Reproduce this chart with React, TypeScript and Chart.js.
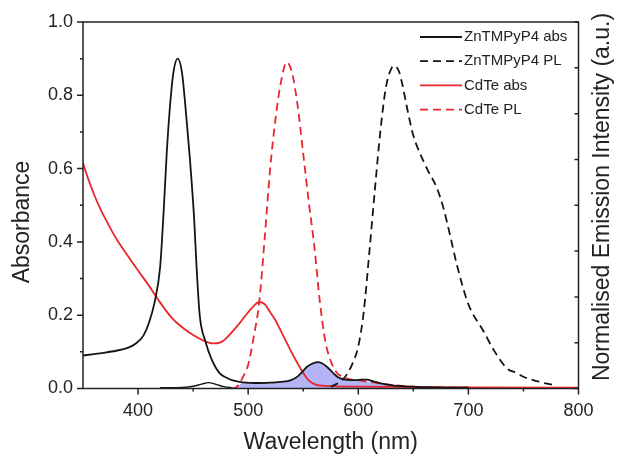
import React, { useEffect, useRef } from 'react';
import { Chart, registerables } from 'chart.js';

Chart.register(...registerables);

// ZnTMPyP4 absorption (solid black)
const znAbsNm = [350, 360, 370, 380, 390, 398, 405, 410, 415, 420, 423, 426, 429, 432, 436, 440, 443, 447, 449, 451, 453, 456, 461, 467, 474, 480, 486, 495, 510, 520, 530, 539, 545, 549, 553, 557, 563, 567, 570, 574, 578, 582, 587, 592, 597, 603, 608, 613, 618, 625, 633, 648, 670, 700];
const znAbsVal = [0.09, 0.094, 0.098, 0.103, 0.11, 0.123, 0.145, 0.18, 0.235, 0.33, 0.47, 0.64, 0.77, 0.86, 0.9, 0.86, 0.77, 0.63, 0.55, 0.46, 0.34, 0.2, 0.13, 0.078, 0.042, 0.03, 0.022, 0.017, 0.015, 0.016, 0.018, 0.023, 0.033, 0.045, 0.058, 0.066, 0.072, 0.069, 0.063, 0.052, 0.04, 0.03, 0.025, 0.023, 0.023, 0.024, 0.024, 0.02, 0.016, 0.011, 0.008, 0.005, 0.003, 0.002];

// ZnTMPyP4 emission (dashed black)
const znPlNm = [575, 580, 585, 590, 595, 600, 605, 610, 615, 620, 625, 630, 633, 637, 640, 644, 650, 656, 663, 671, 677, 683, 690, 700, 714, 723, 735, 744, 750, 762, 778];
const znPlVal = [0.005, 0.012, 0.022, 0.04, 0.07, 0.115, 0.21, 0.37, 0.54, 0.7, 0.82, 0.873, 0.88, 0.865, 0.83, 0.77, 0.69, 0.642, 0.596, 0.55, 0.496, 0.423, 0.332, 0.23, 0.155, 0.105, 0.055, 0.042, 0.032, 0.02, 0.009];

// CdTe absorption (solid red)
const cdAbsNm = [350, 355, 360, 365, 370, 380, 390, 400, 410, 420, 430, 440, 450, 460, 468, 475, 480, 490, 500, 505, 510, 515, 520, 525, 530, 535, 540, 545, 550, 555, 560, 570, 600, 650, 700, 800];
const cdAbsVal = [0.615, 0.57, 0.53, 0.495, 0.465, 0.41, 0.365, 0.322, 0.28, 0.235, 0.195, 0.167, 0.146, 0.13, 0.123, 0.126, 0.137, 0.17, 0.208, 0.225, 0.236, 0.23, 0.208, 0.185, 0.155, 0.125, 0.095, 0.068, 0.042, 0.022, 0.012, 0.007, 0.005, 0.004, 0.003, 0.002];

// CdTe emission (dashed red)
const cdPlNm = [485, 490, 495, 500, 505, 510, 515, 520, 525, 530, 535, 540, 545, 550, 555, 560, 565, 570, 575, 580, 585, 590, 600, 610, 620, 630, 640, 660, 700, 750, 800];
const cdPlVal = [0, 0.006, 0.03, 0.065, 0.14, 0.235, 0.41, 0.6, 0.74, 0.84, 0.89, 0.86, 0.77, 0.64, 0.51, 0.39, 0.24, 0.13, 0.075, 0.045, 0.033, 0.027, 0.022, 0.018, 0.013, 0.01, 0.007, 0.004, 0.002, 0.001, 0.001];

// small black trace near baseline
const lowNm = [420, 440, 450, 458, 464, 470, 478, 486];
const lowVal = [0.002, 0.003, 0.006, 0.012, 0.016, 0.012, 0.005, 0.002];

// spectral overlap (shaded)
const ovNm = [486, 490, 495, 500, 510, 520, 530, 539, 545, 549, 553, 557, 563, 567, 570, 574, 578, 582, 587, 592, 597, 603, 610, 620, 630, 640, 646];
const ovVal = [0, 0.005, 0.016, 0.016, 0.015, 0.016, 0.018, 0.023, 0.033, 0.045, 0.058, 0.066, 0.072, 0.069, 0.063, 0.052, 0.04, 0.03, 0.025, 0.023, 0.022, 0.021, 0.018, 0.013, 0.01, 0.005, 0];

const xTickLabels = [400, 500, 600, 700, 800];
const xMinorTicks = [450, 550, 650, 750];
const yTickLabels = [0, 0.2, 0.4, 0.6, 0.8, 1.0];
const yMinorTicks = [0.1, 0.3, 0.5, 0.7, 0.9];
const rightTicks = [0, 0.125, 0.25, 0.375, 0.5, 0.625, 0.75, 0.875, 1.0];

const legendNames = ['ZnTMPyP4 abs', 'ZnTMPyP4 PL', 'CdTe abs', 'CdTe PL'];
const BLACK = '#151515';
const RED = '#e8262b';
const FONT = "'Liberation Sans', Arial, sans-serif";
const legendStyles = [
  { color: BLACK, dash: [] as number[] },
  { color: BLACK, dash: [8, 5] },
  { color: RED, dash: [] as number[] },
  { color: RED, dash: [8, 5] },
];

const pts = (xs: number[], ys: number[]) => xs.map((x, i) => ({ x, y: ys[i] }));

const decorPlugin = {
  id: 'decor',
  afterDatasetsDraw(chart: any) {
    const { ctx, chartArea: a, scales } = chart;
    const xs = scales.x;
    const ys = scales.y;
    ctx.save();
    ctx.strokeStyle = '#222';
    ctx.lineWidth = 1.5;
    ctx.setLineDash([]);
    ctx.strokeRect(a.left, a.top, a.right - a.left, a.bottom - a.top);
    ctx.beginPath();
    yTickLabels.forEach((v) => { const p = ys.getPixelForValue(v); ctx.moveTo(a.left - 6, p); ctx.lineTo(a.left, p); });
    yMinorTicks.forEach((v) => { const p = ys.getPixelForValue(v); ctx.moveTo(a.left - 3, p); ctx.lineTo(a.left, p); });
    xTickLabels.forEach((v) => { const p = xs.getPixelForValue(v); ctx.moveTo(p, a.bottom); ctx.lineTo(p, a.bottom + 6); });
    xMinorTicks.forEach((v) => { const p = xs.getPixelForValue(v); ctx.moveTo(p, a.bottom); ctx.lineTo(p, a.bottom + 3); });
    rightTicks.forEach((v) => { const p = ys.getPixelForValue(v); ctx.moveTo(a.right - 4, p); ctx.lineTo(a.right, p); });
    ctx.stroke();

    // legend
    ctx.font = `15px ${FONT}`;
    ctx.textBaseline = 'middle';
    ctx.textAlign = 'left';
    legendNames.forEach((name, i) => {
      const yy = 37 + i * 24.2;
      const st = legendStyles[i];
      ctx.beginPath();
      ctx.strokeStyle = st.color;
      ctx.lineWidth = 1.8;
      ctx.setLineDash(st.dash);
      ctx.moveTo(420, yy);
      ctx.lineTo(462, yy);
      ctx.stroke();
      ctx.setLineDash([]);
      ctx.fillStyle = '#222';
      ctx.fillText(name, 464, yy);
    });

    // axis titles
    ctx.fillStyle = '#222';
    ctx.font = `23px ${FONT}`;
    ctx.textAlign = 'center';
    ctx.textBaseline = 'middle';
    ctx.fillText('Wavelength (nm)', (a.left + a.right) / 2, 443);
    ctx.save();
    ctx.translate(23, 222);
    ctx.rotate(-Math.PI / 2);
    ctx.fillText('Absorbance', 0, 0);
    ctx.restore();
    ctx.save();
    ctx.translate(603, 197);
    ctx.rotate(-Math.PI / 2);
    ctx.fillText('Normalised Emission Intensity (a.u.)', 0, 0);
    ctx.restore();
    ctx.restore();
  },
};

export default function App() {
  const ref = useRef<HTMLCanvasElement>(null);
  useEffect(() => {
    if (!ref.current) return;
    const line = (data: any, color: string, dash: number[], extra: any = {}) => ({
      data,
      borderColor: color,
      borderWidth: 1.8,
      borderDash: dash,
      pointRadius: 0,
      fill: false,
      cubicInterpolationMode: 'monotone',
      order: 1,
      ...extra,
    });
    const chart = new Chart(ref.current, {
      type: 'line',
      data: {
        datasets: [
          line(pts(znAbsNm, znAbsVal), BLACK, []),
          line(pts(znPlNm, znPlVal), BLACK, [8, 5]),
          line(pts(cdAbsNm, cdAbsVal), RED, []),
          line(pts(cdPlNm, cdPlVal), RED, [8, 5]),
          line(pts(lowNm, lowVal), BLACK, [], { borderWidth: 1.4 }),
          {
            data: pts(ovNm, ovVal),
            borderWidth: 0,
            borderColor: 'rgba(0,0,0,0)',
            backgroundColor: 'rgba(160,160,242,0.8)',
            pointRadius: 0,
            fill: 'origin',
            cubicInterpolationMode: 'monotone',
            order: 10,
          } as any,
        ],
      },
      options: {
        animation: false,
        responsive: false,
        events: [],
        layout: { padding: { top: 22, left: 0, right: 0, bottom: 0 } },
        plugins: { legend: { display: false }, tooltip: { enabled: false } },
        scales: {
          x: {
            type: 'linear',
            min: 350,
            max: 800,
            grid: { display: false, drawTicks: false },
            border: { display: false },
            afterBuildTicks: (s: any) => { s.ticks = xTickLabels.map((v) => ({ value: v })); },
            afterFit: (s: any) => { s.height = 66.5; },
            ticks: { color: '#222', font: { size: 18, family: FONT }, padding: 12, maxRotation: 0, callback: (v: any) => String(v) },
          },
          y: {
            type: 'linear',
            position: 'left',
            min: 0,
            max: 1,
            grid: { display: false, drawTicks: false },
            border: { display: false },
            afterBuildTicks: (s: any) => { s.ticks = yTickLabels.map((v) => ({ value: v })); },
            afterFit: (s: any) => { s.width = 83; },
            ticks: { color: '#222', font: { size: 18, family: FONT }, padding: 10, callback: (v: any) => Number(v).toFixed(1) },
          },
          y2: {
            type: 'linear',
            position: 'right',
            min: 0,
            max: 1,
            grid: { display: false, drawTicks: false },
            border: { display: false },
            afterFit: (s: any) => { s.width = 38.5; },
            ticks: { display: false },
          },
        },
      },
      plugins: [decorPlugin],
    } as any);
    return () => chart.destroy();
  }, []);
  return (
    <div style={{ position: 'absolute', left: 0, top: 0, width: 617, height: 455, background: '#fff' }}>
      <canvas ref={ref} width={617} height={455} />
    </div>
  );
}
